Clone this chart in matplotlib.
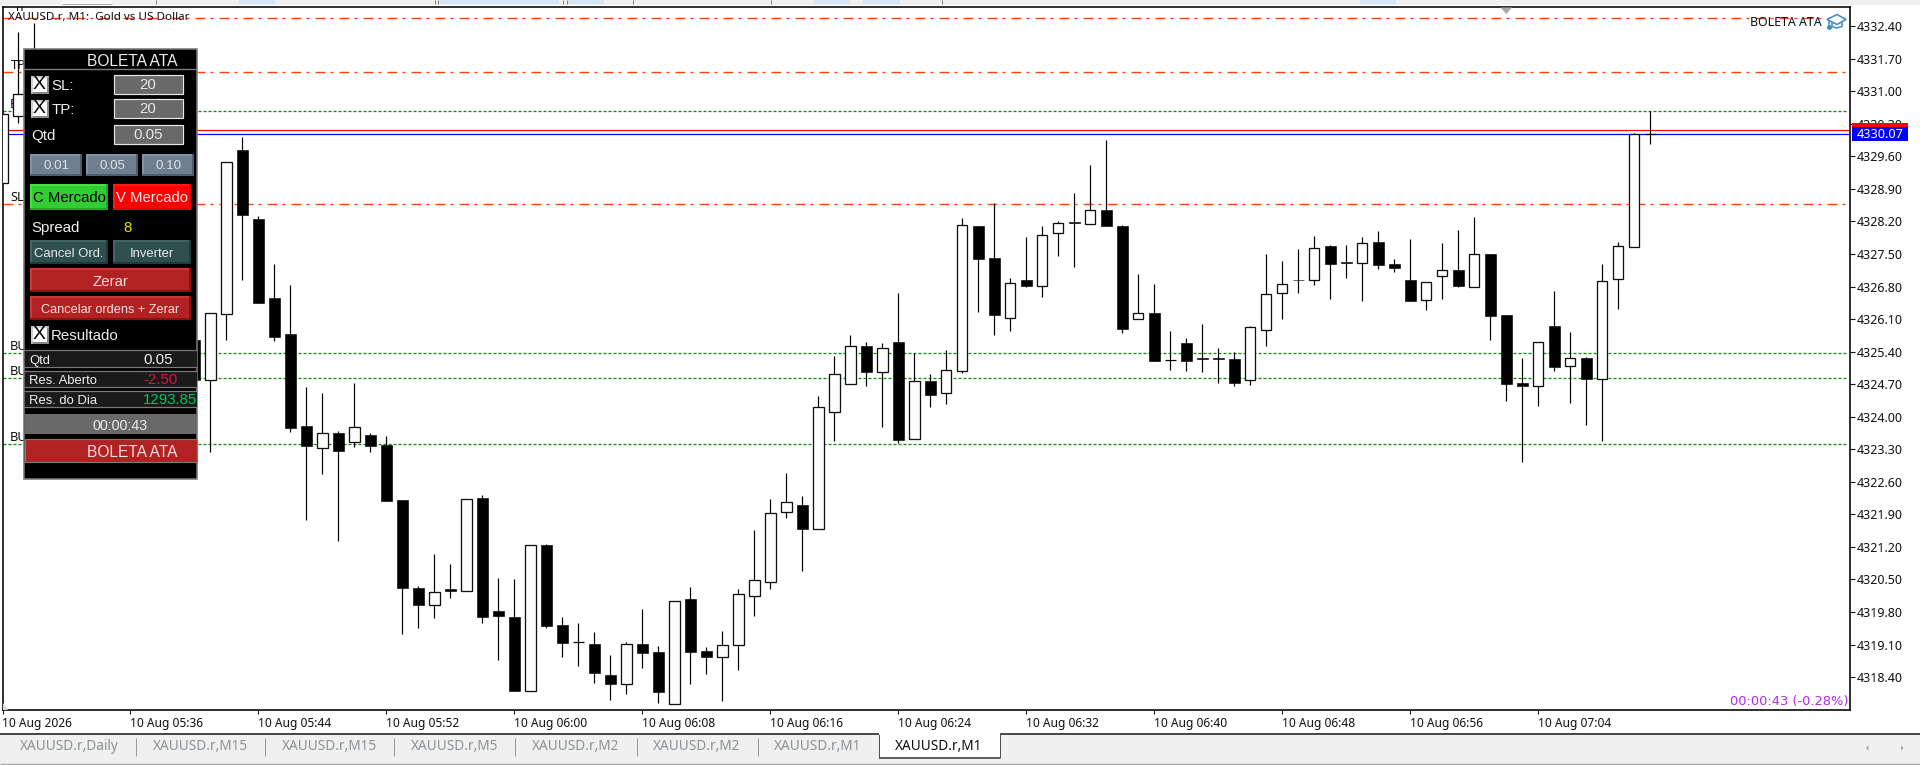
import numpy as np
import matplotlib
matplotlib.use("Agg")
import matplotlib.pyplot as plt
from matplotlib.patches import Rectangle, Polygon

nan = float("nan")
bar_index = list(range(104))
opens = [4329.02, 4330.47, 4331.00, nan, nan, nan, nan, nan, nan, nan, nan, nan, 4325.65,
         4324.80, 4326.20, 4329.73, 4328.25, 4326.55, 4325.78, 4323.80, 4323.33, 4323.65, 4323.46, 4323.61,
         4323.39, 4322.21, 4320.32, 4319.94, 4320.30, 4320.26, 4322.25, 4319.82, 4319.69, 4318.11, 4321.25,
         4319.52, 4319.15, 4319.11, 4318.45, 4318.26, 4319.11, 4318.94, 4317.83, 4320.08, 4318.97, 4318.84,
         4319.10, 4320.15, 4320.44, 4321.96, 4322.10, 4321.59, 4324.11, 4324.71, 4325.52, 4324.97, 4325.61,
         4323.53, 4324.77, 4324.52, 4324.99, 4328.10, 4327.41, 4326.13, 4326.94, 4326.82, 4327.96, 4328.18,
         4328.15, 4328.45, 4328.10, 4326.11, 4326.23, 4325.23, 4325.59, 4325.26, 4325.26, 4325.24, 4324.78,
         4325.87, 4326.65, 4326.95, 4326.95, 4327.67, 4327.32, 4327.31, 4327.76, 4327.28, 4326.94, 4326.50,
         4327.03, 4327.16, 4326.80, 4327.50, 4326.19, 4324.73, 4324.67, 4325.96, 4325.08, 4325.27, 4324.82,
         4326.97, 4327.65, 4330.07]
highs = [4330.50, 4332.27, 4332.46, nan, nan, nan, nan, nan, nan, nan, nan, nan, 4325.65,
         4326.22, 4329.47, 4330.02, 4328.32, 4327.28, 4326.83, 4324.64, 4324.51, 4323.69, 4324.73, 4323.65,
         4323.58, 4322.21, 4320.36, 4321.05, 4320.83, 4322.24, 4322.31, 4320.53, 4320.51, 4321.24, 4321.26,
         4319.69, 4319.56, 4319.37, 4318.88, 4319.16, 4319.86, 4319.07, 4320.03, 4320.34, 4319.05, 4319.39,
         4320.30, 4321.56, 4322.23, 4322.79, 4322.30, 4324.44, 4325.31, 4325.76, 4325.61, 4325.58, 4326.66,
         4325.37, 4324.92, 4325.44, 4328.28, 4328.10, 4328.59, 4326.98, 4327.86, 4328.10, 4328.21, 4328.81,
         4329.41, 4329.95, 4328.12, 4327.07, 4326.85, 4325.84, 4325.69, 4325.99, 4325.48, 4325.39, 4325.95,
         4327.50, 4327.35, 4327.61, 4327.89, 4327.69, 4327.69, 4327.87, 4327.99, 4327.39, 4327.82, 4326.89,
         4327.74, 4328.02, 4328.30, 4327.50, 4326.19, 4325.27, 4325.60, 4326.71, 4325.83, 4325.29, 4327.29,
         4327.76, 4330.10, 4330.58]
lows = [4329.02, 4330.32, 4330.70, nan, nan, nan, nan, nan, nan, nan, nan, nan, 4324.80,
        4323.24, 4325.65, 4326.94, 4326.45, 4325.63, 4323.67, 4321.78, 4322.77, 4321.33, 4323.35, 4323.24,
        4322.19, 4319.33, 4319.46, 4319.68, 4320.11, 4320.26, 4319.56, 4318.77, 4318.10, 4318.11, 4319.46,
        4318.84, 4318.64, 4318.28, 4317.91, 4318.04, 4318.60, 4317.85, 4317.83, 4318.25, 4318.47, 4317.89,
        4318.55, 4319.72, 4320.30, 4321.82, 4320.68, 4321.59, 4323.48, 4324.71, 4324.66, 4323.78, 4323.44,
        4323.53, 4324.21, 4324.27, 4324.94, 4326.25, 4325.76, 4325.84, 4326.79, 4326.58, 4327.46, 4327.22,
        4328.15, 4328.10, 4325.80, 4326.11, 4325.20, 4325.00, 4324.98, 4324.96, 4324.73, 4324.66, 4324.68,
        4325.52, 4326.10, 4326.66, 4326.83, 4326.53, 4326.98, 4326.49, 4327.18, 4327.11, 4326.49, 4326.30,
        4326.53, 4326.79, 4326.80, 4325.65, 4324.34, 4323.02, 4324.23, 4324.99, 4324.30, 4323.83, 4323.48,
        4326.32, 4327.65, 4329.87]
closes = [4330.50, 4330.93, 4331.50, nan, nan, nan, nan, nan, nan, nan, nan, nan, 4324.80,
          4326.22, 4329.47, 4328.33, 4326.45, 4325.71, 4323.76, 4323.36, 4323.64, 4323.26, 4323.77, 4323.36,
          4322.19, 4320.31, 4319.94, 4320.23, 4320.25, 4322.24, 4319.70, 4319.72, 4318.10, 4321.24, 4319.50,
          4319.14, 4319.15, 4318.49, 4318.25, 4319.11, 4318.92, 4318.09, 4320.03, 4318.94, 4318.84, 4319.10,
          4320.18, 4320.48, 4321.93, 4322.16, 4321.59, 4324.20, 4324.91, 4325.51, 4324.96, 4325.47, 4323.50,
          4324.77, 4324.47, 4325.00, 4328.12, 4327.40, 4326.19, 4326.87, 4326.81, 4327.90, 4328.16, 4328.16,
          4328.44, 4328.10, 4325.89, 4326.22, 4325.20, 4325.23, 4325.20, 4325.24, 4325.24, 4324.73, 4325.92,
          4326.63, 4326.85, 4326.93, 4327.62, 4327.28, 4327.30, 4327.73, 4327.26, 4327.20, 4326.49, 4326.89,
          4327.15, 4326.81, 4327.49, 4326.17, 4324.70, 4324.67, 4325.60, 4325.07, 4325.26, 4324.82, 4326.92,
          4327.67, 4330.08, 4330.07]

orange_levels = [4332.57, 4331.41, 4328.57]
green_levels = [4330.57, 4325.36, 4324.83, 4323.41]
ask_price = 4330.16
bid_price = 4330.07
price_ticks = [4332.40, 4331.70, 4331.00, 4330.30, 4329.60, 4328.90, 4328.20, 4327.50, 4326.80, 4326.10,
               4325.40, 4324.70, 4324.00, 4323.30, 4322.60, 4321.90, 4321.20, 4320.50, 4319.80, 4319.10, 4318.40]
time_ticks = [0, 8, 16, 24, 32, 40, 48, 56, 64, 72, 80, 88, 96]
time_labels = ["10 Aug 2026", "10 Aug 05:36", "10 Aug 05:44", "10 Aug 05:52", "10 Aug 06:00", "10 Aug 06:08",
               "10 Aug 06:16", "10 Aug 06:24", "10 Aug 06:32", "10 Aug 06:40", "10 Aug 06:48", "10 Aug 06:56",
               "10 Aug 07:04"]
tab_names = ["XAUUSD.r,Daily", "XAUUSD.r,M15", "XAUUSD.r,M15", "XAUUSD.r,M5", "XAUUSD.r,M2", "XAUUSD.r,M2",
             "XAUUSD.r,M1", "XAUUSD.r,M1"]
object_labels = [("TP", 4332.79, 14), ("TP", 4331.55, 11), ("BU", 4330.72, 10), ("SL", 4328.71, 10),
                 ("BU", 4325.51, 10), ("BU", 4324.97, 10), ("BU", 4323.55, 10)]

CHART = "Noto Sans"
PANEL = "Liberation Sans"
W, H = 1920, 765
PX = 72 / 100  # points per pixel
fig = plt.figure(figsize=(W / 100, H / 100), dpi=100, facecolor="white")

L, R, T, B = 2.5, 1850.3, 7.0, 710.0
ax = fig.add_axes([L / W, 1 - B / H, (R - L) / W, (B - T) / H])
px_per_bar = 16.0
x0 = 2.3
ax.set_xlim((L - x0) / px_per_bar, (R - x0) / px_per_bar)
px_per_price = 46.5
ax.set_ylim(4329.6 - (B - 156.3) / px_per_price, 4329.6 + (156.3 - T) / px_per_price)
ax.set_facecolor("white")
for s in ax.spines.values():
    s.set_linewidth(1.7 * PX)
    s.set_color("#101010")

# price lines
for lv in orange_levels:
    ax.plot([0.0, (1845 - x0) / px_per_bar], [lv, lv], color="#ff4500", lw=1.4 * PX, zorder=1,
            dashes=(10 / 1.4, 5 / 1.4, 3 / 1.4, 6 / 1.4), dash_capstyle="butt")
for lv in green_levels:
    ax.plot([0.0, (1847 - x0) / px_per_bar], [lv, lv], color="#0a8f0a", lw=1.3 * PX, zorder=1,
            dashes=(3.0 / 1.3, 2.0 / 1.3), dash_capstyle="butt")
for price, col in ((ask_price, "#ff0000"), (bid_price, "#0000ff")):
    ax.axhline(price, color=col, lw=1.2 * PX, zorder=1)

# labels on the lines (mostly hidden by the panel and candles)
for s, lv, px in object_labels:
    ax.text((px - x0) / px_per_bar, lv, s, fontsize=9.2, family=CHART, color="#101010", va="center", ha="left",
            zorder=2, clip_on=True)

# candles
o, h, l, c = map(np.array, (opens, highs, lows, closes))
idx = np.array(bar_index, dtype=float)
ax.vlines(idx, l, h, color="black", lw=1.2 * PX, zorder=3)
up = c > o
dn = c < o
fl = c == o
ax.bar(idx[up], (c - o)[up], bottom=o[up], width=10.2 / px_per_bar, facecolor="white", edgecolor="#101010",
       linewidth=1.3 * PX, zorder=4)
ax.bar(idx[dn], (o - c)[dn], bottom=c[dn], width=11 / px_per_bar, facecolor="black", edgecolor="black",
       linewidth=0.6 * PX, zorder=4)
ax.hlines(c[fl], idx[fl] - 5.5 / px_per_bar, idx[fl] + 5.5 / px_per_bar, color="black", lw=1.2 * PX, zorder=4)

ax.yaxis.tick_right()
ax.set_yticks(price_ticks)
ax.set_yticklabels([f"{v:.2f}" for v in price_ticks], family=CHART, fontsize=9.0, color="#101010")
ax.tick_params(axis="y", length=5 * PX, width=1.1 * PX, pad=1 * PX, color="#101010")
ax.set_xticks(time_ticks)
ax.set_xticklabels(time_labels, family=CHART, fontsize=8.6, color="#101010", ha="left")
ax.tick_params(axis="x", length=4 * PX, width=1.0 * PX, pad=3 * PX, color="#101010")

# overlay in pixel coordinates
ui = fig.add_axes([0, 0, 1, 1], zorder=10)
ui.set_xlim(0, W)
ui.set_ylim(H, 0)
ui.axis("off")
ui.patch.set_alpha(0)


def rect(x1, y1, x2, y2, fc, ec="none", lw=0, z=2):
    ui.add_patch(Rectangle((x1, y1), x2 - x1, y2 - y1, facecolor=fc, edgecolor=ec, linewidth=lw * PX, zorder=z))


def line(x1, y1, x2, y2, col, lw=1, z=3):
    ui.plot([x1, x2], [y1, y2], color=col, lw=lw * PX, zorder=z, solid_capstyle="butt")


def text(x, y, s, col="white", size=10, ha="center", fam=PANEL, z=5):
    ui.text(x, y, s, color=col, fontsize=size, ha=ha, va="center", family=fam, zorder=z)


# top strip
rect(0, 0, W, 5, "#f0f0f0")
rect(62, 0, 112, 4, "#f8f8f8")
line(62, 4, 112, 4, "#a8a8a8", 1)
for a, b in ((239, 274.5), (440, 559), (568, 604), (814, 850), (863, 900), (1360, 1396)):
    rect(a, 0, b, 4, "#d6e5f4")
for xs in (155.6, 435, 438, 563, 567, 633, 771, 942):
    line(xs, 0, xs, 4, "#808080", 1)
ui.add_patch(Polygon([(1500.5, 7.5), (1512, 7.5), (1506.3, 14)], closed=True, fc="#a8a8a8", ec="none", zorder=3))
ui.add_patch(Polygon([(3, 710), (3, 703), (8, 710)], closed=True, fc="#d8d8d8", ec="none", zorder=3))

# chart captions
text(8, 17, "XAUUSD.r, M1:  Gold vs US Dollar", "#101010", 8.4, "left", CHART)
text(1750, 22, "BOLETA ATA", "#101010", 8.9, "left", CHART)
text(1849, 701.5, "00:00:43 (-0.28%)", "#b428e6", 9.4, "right", "DejaVu Sans")

# graduation cap
capc = "#3f8fc8"
ui.add_patch(Polygon([(1827, 19.5), (1837, 14.5), (1846, 19.5), (1837, 24.5)], closed=True, fc="white", ec=capc,
                     lw=1.6 * PX, zorder=4))
ui.plot([1832, 1832, 1836.5, 1842, 1842], [22, 26.5, 28, 26.5, 22], color=capc, lw=1.6 * PX, zorder=4)
ui.plot([1829, 1829], [20.5, 26.5], color=capc, lw=1.5 * PX, zorder=4)
ui.plot([1829], [27], "o", color=capc, ms=2.6, zorder=4)

# price labels
rect(1852, 123.3, 1908, 137.4, "#ff0000", z=6)
rect(1852, 127.3, 1908, 140.8, "#0000ff", z=7)
text(1880, 134.2, f"{bid_price:.2f}", "white", 9.2, "center", CHART, z=8)

# tab bar
rect(0, 734, W, 764, "#f0f0f0")
line(0, 734, W, 734, "#202020", 1.6)
line(0, 764.3, W, 764.3, "#a8a8a8", 1.4)
for xs in (136, 265, 394, 515, 636.5, 757.6):
    line(xs, 738, xs, 756, "#9a9a9a", 1)
rect(879, 733, 1000, 758, "white", z=3)
line(879, 758, 1000, 758, "#303030", 1.5, z=4)
line(879, 733, 879, 758, "#505050", 1, z=4)
line(1000, 733, 1000, 758, "#505050", 1, z=4)
line(879, 734, 1000, 734, "white", 2, z=4)
tab_centres = (69.5, 200.9, 329.7, 454.4, 575.5, 696.7, 817.6, 938.8)
for i, (cx, name) in enumerate(zip(tab_centres, tab_names)):
    text(cx, 747, name, "#101010" if i == 7 else "#8a9296", 9.8, "center", CHART, z=6)
for pts in ([(1868.5, 745), (1866, 748), (1868.5, 751)], [(1901, 745), (1903.5, 748), (1901, 751)]):
    ui.add_patch(Polygon(pts, closed=True, fc="#a8a8a8", ec="none", zorder=4))

# trade panel
rect(24, 48.5, 197, 479, "black", "#7a7a7a", 1.6, z=10)
ZP = 11


def ptext(x, y, s, col="white", size=10.4, ha="center"):
    text(x, y + 1, s, col, size, ha, PANEL, z=14)


def prect(x1, y1, x2, y2, fc, ec="none", lw=0):
    rect(x1, y1, x2, y2, fc, ec, lw, z=ZP)


def pbevel(x1, y1, x2, y2, fc, light, dark):
    prect(x1, y1, x2, y2, fc)
    line(x1, y1 + 1, x2, y1 + 1, light, 2, z=12)
    line(x1 + 1, y1, x1 + 1, y2, light, 2, z=12)
    line(x1, y2 - 1, x2, y2 - 1, dark, 2, z=12)
    line(x2 - 1, y1, x2 - 1, y2, dark, 2, z=12)


def pcheck(x, y):
    prect(x, y, x + 18, y + 18, "white")
    line(x, y + 17, x + 18, y + 17, "#8a8a8a", 2, z=12)
    line(x + 17, y, x + 17, y + 18, "#8a8a8a", 2, z=12)
    line(x + 0.7, y, x + 0.7, y + 18, "#c0c0c0", 1.5, z=12)
    line(x, y + 0.7, x + 18, y + 0.7, "#c0c0c0", 1.5, z=12)
    ptext(x + 8.5, y + 7.7, "X", "black", 14)


ptext(132.7, 60.2, "BOLETA ATA", "#f0f0f0", 11.2)
line(24, 69.3, 197, 69.3, "#7a7a7a", 1.4, z=12)
pcheck(31, 76)
ptext(51.5, 84.5, "SL:", "#f0f0f0", 10.8, "left")
pcheck(31, 100)
ptext(51.5, 108.5, "TP:", "#f0f0f0", 10.8, "left")
ptext(31, 134.5, "Qtd", "#f0f0f0", 10.8, "left")
for y1, s in ((74.5, "20"), (98.5, "20"), (124.5, "0.05")):
    prect(113.5, y1, 182.5, y1 + 19.5, "#696969", "#e6e6e6", 1.2)
    ptext(148, y1 + 9.5, s, "#e8e8e8", 10.8)
for x1, x2, s in ((30, 82, "0.01"), (86, 138, "0.05"), (142, 194, "0.10")):
    pbevel(x1, 154, x2, 176, "#6f7f90", "#8291a0", "#4f5d6c")
    ptext((x1 + x2) / 2, 165, s, "#e0e0e0", 9.6)
pbevel(30, 184, 108, 210, "#32cd32", "#46e046", "#24a824")
ptext(69.3, 197, "C Mercado", "black", 10.7)
pbevel(113, 184, 191, 210, "#ff0000", "#ff1818", "#e00000")
ptext(152, 197, "V Mercado", "#ffe8e8", 10.7)
ptext(31, 227, "Spread", "#f0f0f0", 10.8, "left")
ptext(127, 227, "8", "#e6e600", 10.8)
pbevel(30, 240, 108, 263.5, "#2f4f4f", "#426464", "#1f3a3a")
ptext(69, 252.5, "Cancel Ord.", "#e8e8e8", 9.4)
pbevel(113, 240, 191, 263.5, "#2f4f4f", "#426464", "#1f3a3a")
ptext(152, 252.5, "Inverter", "#e8e8e8", 9.4)
pbevel(30, 268, 191, 292, "#b22222", "#c83a3a", "#8c1010")
ptext(110, 280.7, "Zerar", "#f4e0e0", 10.8)
pbevel(30, 296, 191, 320, "#b22222", "#c83a3a", "#8c1010")
ptext(110, 308.7, "Cancelar ordens + Zerar", "#f4e0e0", 9.2)
pcheck(31, 326)
ptext(51, 335, "Resultado", "#f0f0f0", 10.8, "left")
rows = ((350, 367.3, "Qtd", "0.05", "#f0f0f0"), (370.7, 387.3, "Res. Aberto", "-2.50", "#dc143c"),
        (390.7, 407.3, "Res. do Dia", "1293.85", "#00c85a"))
for y1, y2, a, b, col in rows:
    prect(24.5, y1, 196.5, y2, "#1a1a1a")
    line(24, y1, 197, y1, "#7a7a7a", 1.2, z=12)
    line(24, y2, 197, y2, "#7a7a7a", 1.2, z=12)
    ptext(29.3, (y1 + y2) / 2 + 1, a, "#f0f0f0", 9.4, "left")
    ptext(143.3, (y1 + y2) / 2, b, col, 10.8, "left")
prect(24.5, 414, 196.5, 434, "#696969")
ptext(120, 425, "00:00:43", "#e8e8e8", 10.4)
prect(24.5, 438.5, 196.5, 461.5, "#b22222", "#7a7a7a", 1.2)
ptext(132.7, 451.8, "BOLETA ATA", "#f4e0e0", 11.2)

fig.savefig("out.png", dpi=100, facecolor="white")
